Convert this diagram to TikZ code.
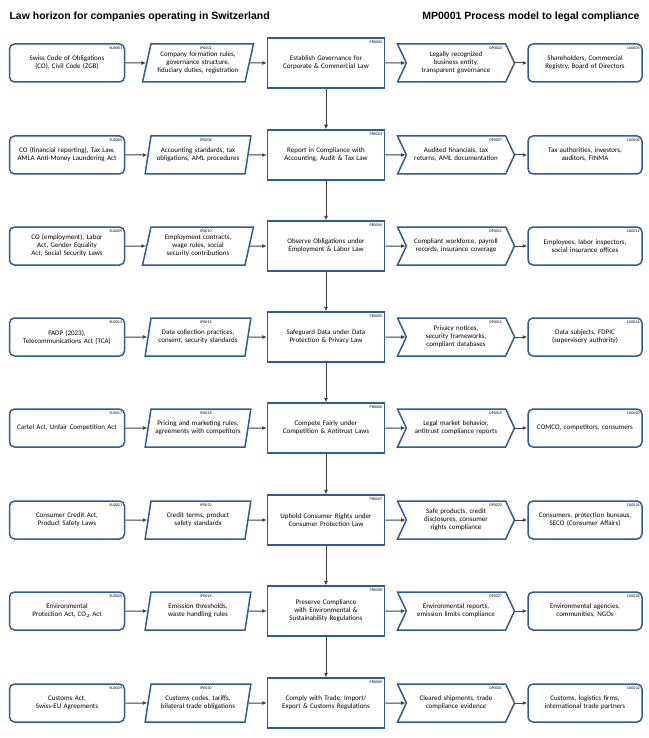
\documentclass[tikz,border=0pt]{standalone}
\usepackage{fontspec}
\setmainfont{Carlito}
\newfontfamily\titlefont{Liberation Sans}
\usetikzlibrary{shapes.geometric,shapes.symbols,arrows.meta}
\definecolor{boxblue}{HTML}{2E5C9A}
\definecolor{arrowgray}{HTML}{404040}
\newcommand\nohyph{\hyphenpenalty=10000\exhyphenpenalty=10000\relax}
\tikzset{
  base/.style={draw=boxblue, line width=1.5pt, fill=white, align=center, font=\fontsize{7}{8}\selectfont, execute at begin node=\nohyph, text width=100pt, inner sep=2pt},
  subox/.style={base, rounded corners=5pt, minimum width=115pt, minimum height=38pt},
  ipbox/.style={base, trapezium, trapezium left angle=72, trapezium right angle=108, trapezium stretches body, minimum width=105pt, minimum height=38pt, text width=90pt},
  prbox/.style={base, minimum width=117pt, minimum height=50pt, text width=100pt},
  opbox/.style={base, signal, signal to=east, signal from=west, signal pointer angle=130, minimum width=117pt, minimum height=38pt, text width=86pt},
  cubox/.style={base, rounded corners=5pt, minimum width=114pt, minimum height=38pt},
  idtag/.style={font=\fontsize{4}{4.5}\selectfont, anchor=north east, inner sep=0pt},
  flow/.style={-{Latex[length=4.5pt,width=4pt]}, arrowgray, line width=1pt},
  down/.style={-{Latex[length=4.5pt,width=4pt]}, arrowgray, line width=0.7pt}
}
\begin{document}
\begin{tikzpicture}[x=1pt,y=-1pt]
\useasboundingbox (0,0) rectangle (648,738);
\node[font=\titlefont\bfseries\fontsize{10.5}{12}\selectfont, anchor=west] (title) at (6,17) {Law horizon for companies operating in Switzerland};
\node[font=\titlefont\bfseries\fontsize{10.5}{12}\selectfont, anchor=east] (model) at (643,17) {MP0001 Process model to legal compliance};
% rows: number/y/su/ip/pr/op/cu
\foreach \r/\y/\su/\ip/\pr/\op/\cu/\ids in {
  1/63/{Swiss Code of Obligations (CO), Civil Code (ZGB)}/{Company formation rules, governance structure, fiduciary duties, registration}/{Establish Governance for Corporate \& Commercial Law}/{Legally recognized business entity, transparent governance}/{Shareholders, Commercial Registry, Board of Directors}/{0001/0002/0002/0003/0004},
  2/155/{CO (financial reporting), Tax Law, AMLA Anti-Money Laundering Act}/{Accounting standards, tax obligations, AML procedures}/{Report in Compliance with Accounting, Audit \& Tax Law}/{Audited financials, tax returns, AML documentation}/{Tax authorities, investors, auditors, FINMA}/{0005/0006/0003/0007/0008},
  3/246/{CO (employment), Labor Act, Gender Equality Act, Social Security Laws}/{Employment contracts, wage rules, social security contributions}/{Observe Obligations under Employment \& Labor Law}/{Compliant workforce, payroll records, insurance coverage}/{Employees, labor inspectors, social insurance offices}/{0009/0010/0004/0011/0012},
  4/337/{FADP (2023), Telecommunications Act (TCA)}/{Data collection practices, consent, security standards}/{Safeguard Data under Data Protection \& Privacy Law}/{Privacy notices, security frameworks, compliant databases}/{Data subjects, FDPIC (supervisory authority)}/{0013/0014/0005/0015/0016},
  5/428/{Cartel Act, Unfair Competition Act}/{Pricing and marketing rules, agreements with competitors}/{Compete Fairly under Competition \& Antitrust Laws}/{Legal market behavior, antitrust compliance reports}/{COMCO, competitors, consumers}/{0017/0018/0006/0019/0020},
  6/520/{Consumer Credit Act, Product Safety Laws}/{Credit terms, product safety standards}/{Uphold Consumer Rights under Consumer Protection Law}/{Safe products, credit disclosures, consumer rights compliance}/{Consumers, protection bureaus, SECO (Consumer Affairs)}/{0021/0022/0007/0023/0024},
  7/611/{Environmental Protection Act, CO$_2$ Act}/{Emission thresholds, waste handling rules}/{Preserve Compliance with Environmental \& Sustainability Regulations}/{Environmental reports, emission limits compliance}/{Environmental agencies, communities, NGOs}/{0025/0026/0008/0027/0028},
  8/703/{Customs Act, Swiss-EU Agreements}/{Customs codes, tariffs, bilateral trade obligations}/{Comply with Trade, Import/ Export \& Customs Regulations}/{Cleared shipments, trade compliance evidence}/{Customs, logistics firms, international trade partners}/{0029/0030/0009/0031/0032}}{
  \node[subox] (su\r) at (67,\y) {\su};
  \node[ipbox] (ip\r) at (198,\y) {\ip};
  \node[prbox] (pr\r) at (326,\y) {\pr};
  \node[opbox] (op\r) at (456,\y) {\op};
  \node[cubox] (cu\r) at (585,\y) {\cu};
  \foreach \a/\b/\c/\d/\e in \ids {
    \node[idtag, xshift=-3pt, yshift=-3pt] at (su\r.north east) {SU\a};
    \node[idtag, xshift=-6pt, yshift=-3pt] at (ip\r.north east) {IP\b};
    \node[idtag, xshift=-3pt, yshift=-3pt] at (pr\r.north east) {PR\c};
    \node[idtag, xshift=-4pt, yshift=-3pt] at (op\r.north east) {OP\d};
    \node[idtag, xshift=-3pt, yshift=-3pt] at (cu\r.north east) {CU\e};
  }
  \draw[flow] (su\r) -- (ip\r);
  \draw[flow] (ip\r) -- (pr\r);
  \draw[flow] (pr\r) -- (op\r);
  \draw[flow] (op\r.east) -- (cu\r);
}
\foreach \r [evaluate=\r as \n using int(\r+1)] in {1,...,7}
  \draw[down] (pr\r) -- (pr\n);
\end{tikzpicture}
\end{document}
